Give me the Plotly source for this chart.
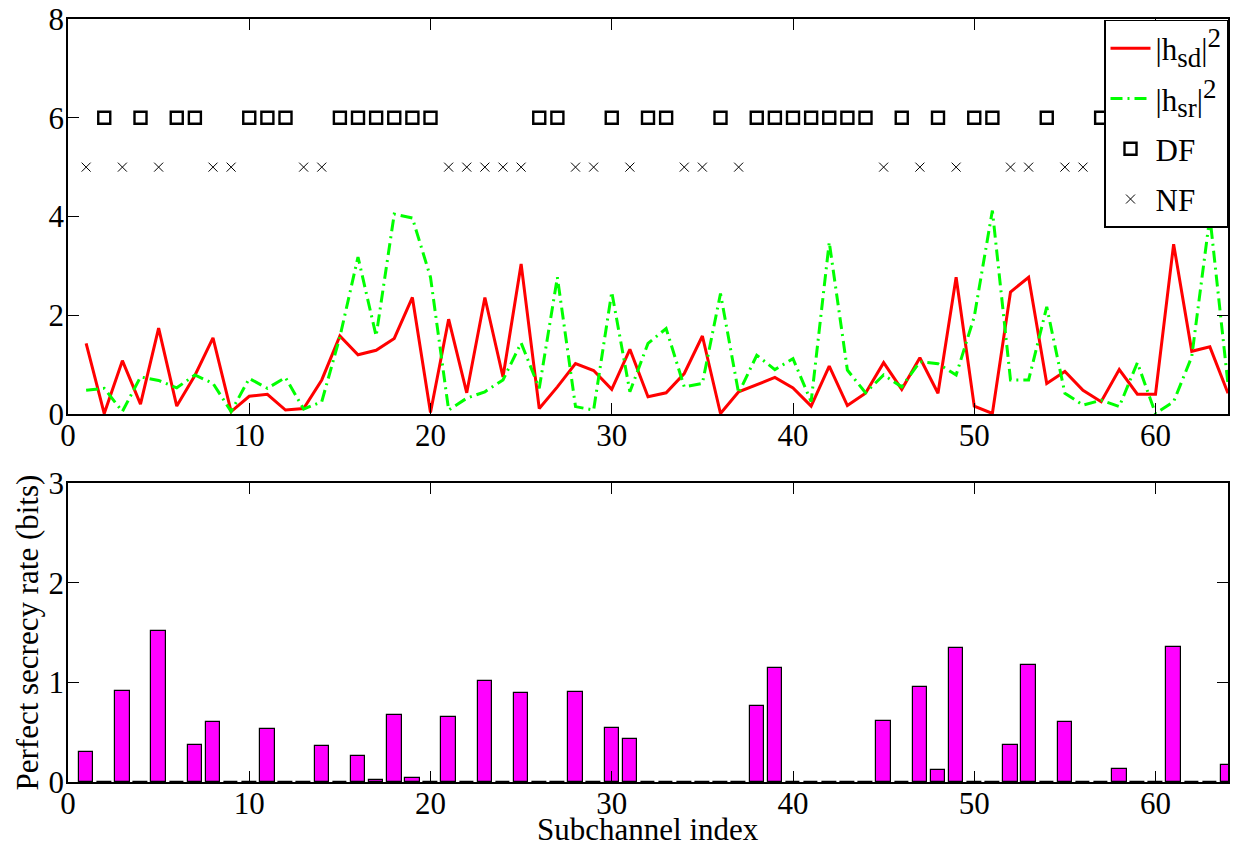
import plotly.graph_objects as go

# ---- data ----
subchannel = list(range(1, 65))

h_sd = [1.43, 0.01, 1.08, 0.20, 1.74, 0.16, 0.78, 1.54, 0.05, 0.36,
        0.40, 0.08, 0.11, 0.69, 1.58, 1.20, 1.29, 1.53, 2.36, 0.03,
        1.92, 0.43, 2.36, 0.75, 3.04, 0.11, 0.55, 1.02, 0.88, 0.50,
        1.31, 0.35, 0.43, 0.82, 1.58, 0.01, 0.45, 0.59, 0.74, 0.53,
        0.16, 0.97, 0.17, 0.42, 1.04, 0.50, 1.14, 0.42, 2.77, 0.16,
        0.01, 2.47, 2.77, 0.62, 0.86, 0.48, 0.25, 0.90, 0.40, 0.40,
        3.44, 1.27, 1.36, 0.42]

h_sr = [0.48, 0.52, 0.05, 0.75, 0.68, 0.53, 0.79, 0.62, 0.05, 0.72,
        0.52, 0.74, 0.10, 0.25, 1.56, 3.18, 1.58, 4.05, 3.97, 2.77,
        0.08, 0.32, 0.45, 0.69, 1.44, 0.52, 2.77, 0.15, 0.08, 2.47,
        0.45, 1.43, 1.73, 0.55, 0.62, 2.44, 0.42, 1.19, 0.90, 1.12,
        0.25, 3.48, 0.89, 0.43, 0.79, 0.55, 1.06, 1.02, 0.79, 1.97,
        4.12, 0.69, 0.69, 2.17, 0.42, 0.18, 0.28, 0.15, 1.04, 0.01,
        0.25, 1.16, 4.00, 0.60]

df_index = [2, 4, 6, 7, 10, 11, 12, 15, 16, 17, 18, 19, 20, 26, 27, 30,
            32, 33, 36, 38, 39, 40, 41, 42, 43, 44, 46, 48, 50, 51, 54, 57]
df_level = [6] * len(df_index)

nf_index = [1, 3, 5, 8, 9, 13, 14, 21, 22, 23, 24, 25, 28, 29, 31, 34,
            35, 37, 45, 47, 49, 52, 53, 55, 56, 64]
nf_level = [5] * len(nf_index)

secrecy_rate = [0.30, 0.00, 0.91, 0.00, 1.52, 0.00, 0.37, 0.60, 0.00, 0.00,
                0.53, 0.00, 0.00, 0.36, 0.00, 0.26, 0.02, 0.67, 0.04, 0.00,
                0.65, 0.00, 1.01, 0.00, 0.89, 0.00, 0.00, 0.90, 0.00, 0.54,
                0.43, 0.00, 0.00, 0.00, 0.00, 0.00, 0.00, 0.765, 1.14, 0.00,
                0.00, 0.00, 0.00, 0.00, 0.61, 0.00, 0.95, 0.12, 1.34, 0.00,
                0.00, 0.37, 1.17, 0.00, 0.60, 0.00, 0.00, 0.13, 0.00, 0.00,
                1.35, 0.00, 0.00, 0.17]

top_xticks = [0, 10, 20, 30, 40, 50, 60]
top_yticks = [0, 2, 4, 6, 8]
bot_yticks = [0, 1, 2, 3]

FONT = "Liberation Serif, Times New Roman, serif"
FS = 31

sd_label = ("|h<sub><span style='font-size:27px'>sd</span></sub>|"
            "<sup><span style='font-size:27px'>2</span></sup>")
sr_label = ("|h<sub><span style='font-size:27px'>sr</span></sub>|"
            "<sup><span style='font-size:27px'>2</span></sup>")

fig = go.Figure()

fig.add_trace(go.Scatter(
    x=subchannel, y=h_sd, mode="lines", name=sd_label, legendgroup="a",
    line=dict(color="#FF0000", width=3), xaxis="x", yaxis="y"))
fig.add_trace(go.Scatter(
    x=subchannel, y=h_sr, mode="lines", name=sr_label, legendgroup="b",
    line=dict(color="#00FF00", width=3, dash="12px,5px,2px,5px"), xaxis="x", yaxis="y"))
fig.add_trace(go.Scatter(
    x=df_index, y=df_level, mode="markers", name="DF", legendgroup="c",
    marker=dict(symbol="square-open", size=12, color="black", line=dict(width=2.4, color="black")),
    xaxis="x", yaxis="y"))
fig.add_trace(go.Scatter(
    x=nf_index, y=nf_level, mode="markers", name="NF", legendgroup="d",
    marker=dict(symbol="x-thin-open", size=9, color="black", line=dict(width=1, color="black")),
    xaxis="x", yaxis="y"))
fig.add_trace(go.Bar(
    x=subchannel, y=secrecy_rate, width=0.8, showlegend=False,
    marker=dict(color="#FF00FF", line=dict(color="black", width=1.2)),
    xaxis="x2", yaxis="y2"))

axis_common = dict(
    showline=True, linecolor="black", linewidth=1.5, mirror="ticks",
    ticks="inside", ticklen=11, tickwidth=1, tickcolor="black",
    showgrid=False, zeroline=False, automargin=False,
    tickfont=dict(family=FONT, size=FS, color="black"),
)

fig.update_layout(
    width=1235, height=848,
    margin=dict(l=68, r=7, t=19, b=66, autoexpand=False),
    paper_bgcolor="white", plot_bgcolor="white",
    font=dict(family=FONT, size=FS, color="black"),
    bargap=0,
    xaxis=dict(domain=[0, 1], range=[0, 64], tickvals=top_xticks, anchor="y",
               ticklabelstandoff=-7, **axis_common),
    yaxis=dict(domain=[0.4823, 1.0], range=[0, 8], tickvals=top_yticks, anchor="x",
               ticklabelstandoff=-4, **axis_common),
    xaxis2=dict(domain=[0, 1], range=[0, 64], tickvals=top_xticks, anchor="y2",
                ticklabelstandoff=-7, **axis_common),
    yaxis2=dict(domain=[0, 0.3919], range=[0, 3], tickvals=bot_yticks, anchor="x2",
                ticklabelstandoff=-4, **axis_common),
    legend=dict(
        x=1.0, y=0.9987, xanchor="right", yanchor="top",
        bgcolor="white", bordercolor="black", borderwidth=1.5,
        font=dict(family=FONT, size=FS, color="black"),
        itemwidth=40, tracegroupgap=7,
    ),
    annotations=[
        dict(text="Subchannel index", xref="paper", yref="paper",
             x=0.5, y=-0.0625, xanchor="center", yanchor="middle", showarrow=False,
             font=dict(family=FONT, size=FS, color="black")),
        dict(text="Perfect secrecy rate (bits)", xref="paper", yref="paper",
             x=-0.0353, y=0.196, xanchor="center", yanchor="middle", showarrow=False,
             textangle=-90, font=dict(family=FONT, size=FS, color="black")),
    ],
)

fig.write_html("out.html", config={"displayModeBar": False},
               post_script="document.body.style.margin='0';document.body.style.overflow='hidden';")
